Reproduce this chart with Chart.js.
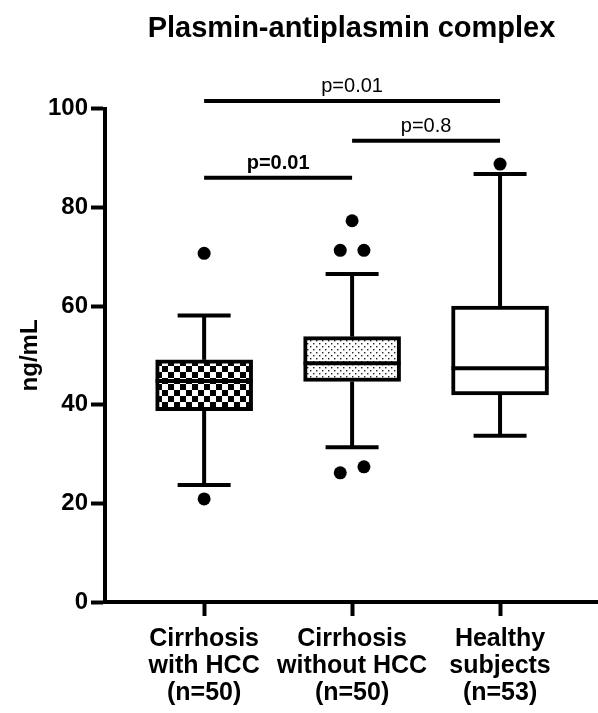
<!DOCTYPE html>
<html>
<head>
<meta charset="utf-8">
<script src="https://cdn.jsdelivr.net/npm/chart.js@4.4.0/dist/chart.umd.min.js"></script>
<style>
  body { margin: 0; background: #fff; }
  #wrap { width: 598px; height: 713px; }
</style>
</head>
<body>
<div id="wrap"><canvas id="boxChart" width="598" height="713"></canvas></div>
<script>
// groups on the x axis (1, 2, 3) and their multi-line labels
const groupPos = [1, 2, 3];
const groupLabels = [
    ['Cirrhosis', 'with HCC', '(n=50)'],
    ['Cirrhosis', 'without HCC', '(n=50)'],
    ['Healthy', 'subjects', '(n=53)']
];

// box plot summary, ng/mL
const whiskerLow = [23.7, 31.4, 33.7];
const q1 = [38.8, 44.7, 42.0];
const median = [44.8, 48.4, 47.4];
const q3 = [49.1, 53.8, 60.0];
const whiskerHigh = [58.1, 66.5, 86.8];

// outliers (x slightly jittered like in the figure)
const outlierX = [1, 1, 2, 1.92, 2.08, 1.92, 2.08, 3];
const outlierY = [70.7, 20.9, 77.3, 71.3, 71.3, 26.2, 27.4, 88.8];

const yTicks = [0, 20, 40, 60, 80, 100];

// significance brackets
const pFrom = [1, 2, 1];
const pTo = [3, 3, 2];
const pLevel = [101.6, 93.5, 86.0];
const pLabels = ['p=0.01', 'p=0.8', 'p=0.01'];
const pBold = [false, false, true];

const FONT = "'Liberation Sans', Arial, Helvetica, sans-serif";

function checkerPattern() {
    const c = document.createElement('canvas');
    c.width = 12; c.height = 12;
    const g = c.getContext('2d');
    g.fillStyle = '#fff';
    g.fillRect(0, 0, 12, 12);
    g.fillStyle = '#000';
    g.fillRect(0, 0, 6, 6);
    g.fillRect(6, 6, 6, 6);
    return g.createPattern(c, 'repeat');
}

function dotPattern() {
    const c = document.createElement('canvas');
    c.width = 6; c.height = 6;
    const g = c.getContext('2d');
    g.fillStyle = '#fff';
    g.fillRect(0, 0, 6, 6);
    g.fillStyle = '#222';
    g.fillRect(1, 1, 1.4, 1.4);
    g.fillRect(4, 4, 1.4, 1.4);
    return g.createPattern(c, 'repeat');
}

// whiskers, medians and the p-value brackets
const boxExtras = {
    id: 'boxExtras',
    afterDatasetsDraw(chart) {
        const ctx = chart.ctx;
        const x = chart.scales.x;
        const y = chart.scales.y;
        ctx.save();
        ctx.strokeStyle = '#000';
        ctx.lineWidth = 4;
        ctx.lineCap = 'butt';

        function seg(x1, y1, x2, y2) {
            ctx.beginPath();
            ctx.moveTo(x1, y1);
            ctx.lineTo(x2, y2);
            ctx.stroke();
        }

        groupPos.forEach((g, i) => {
            const cx = x.getPixelForValue(g);
            seg(cx, y.getPixelForValue(q3[i]), cx, y.getPixelForValue(whiskerHigh[i]));
            seg(cx, y.getPixelForValue(q1[i]), cx, y.getPixelForValue(whiskerLow[i]));
            seg(cx - 26.5, y.getPixelForValue(whiskerHigh[i]), cx + 26.5, y.getPixelForValue(whiskerHigh[i]));
            seg(cx - 26.5, y.getPixelForValue(whiskerLow[i]), cx + 26.5, y.getPixelForValue(whiskerLow[i]));
            seg(cx - 48.5, y.getPixelForValue(median[i]), cx + 48.5, y.getPixelForValue(median[i]));
        });

        ctx.fillStyle = '#000';
        ctx.textAlign = 'center';
        ctx.textBaseline = 'alphabetic';
        pLabels.forEach((label, i) => {
            const x1 = x.getPixelForValue(pFrom[i]);
            const x2 = x.getPixelForValue(pTo[i]);
            const py = y.getPixelForValue(pLevel[i]);
            seg(x1, py, x2, py);
            ctx.font = (pBold[i] ? 'bold ' : '') + '20px ' + FONT;
            ctx.fillText(label, (x1 + x2) / 2, py - 9);
        });
        ctx.restore();
    }
};

const chart = new Chart(document.getElementById('boxChart'), {
    type: 'bar',
    data: {
        datasets: [{
            type: 'bar',
            data: groupPos.map((g, i) => ({ x: g, y: [q1[i], q3[i]] })),
            backgroundColor: [checkerPattern(), dotPattern(), '#fff'],
            borderColor: '#000',
            borderWidth: 4,
            borderSkipped: false,
            barThickness: 97
        }, {
            type: 'scatter',
            data: outlierX.map((v, i) => ({ x: v, y: outlierY[i] })),
            pointRadius: 6.5,
            pointBackgroundColor: '#000',
            pointBorderWidth: 0,
            clip: false
        }]
    },
    options: {
        responsive: false,
        animation: false,
        layout: { padding: 0, autoPadding: false },
        plugins: {
            legend: { display: false },
            tooltip: { enabled: false },
            title: {
                display: true,
                text: 'Plasmin-antiplasmin complex',
                color: '#000',
                fullSize: false,
                font: { family: FONT, size: 29, weight: 'bold' },
                padding: { top: 12, bottom: 62 }
            }
        },
        scales: {
            x: {
                type: 'linear',
                offset: false,
                min: 0.33,
                max: 3.662,
                afterBuildTicks: s => { s.ticks = groupPos.map(v => ({ value: v })); },
                afterFit: s => { s.height = 111; },
                ticks: {
                    autoSkip: false,
                    maxRotation: 0,
                    padding: 10,
                    color: '#000',
                    font: { family: FONT, size: 25, weight: 'bold', lineHeight: 1.08 },
                    callback: v => groupLabels[groupPos.indexOf(v)]
                },
                grid: { offset: false, drawOnChartArea: false, tickLength: 14, tickWidth: 4, tickColor: '#000' },
                border: { color: '#000', width: 4 }
            },
            y: {
                min: 0,
                max: 100,
                afterBuildTicks: s => { s.ticks = yTicks.map(v => ({ value: v })); },
                afterFit: s => { s.width = 105; },
                ticks: {
                    padding: 3,
                    color: '#000',
                    font: { family: FONT, size: 24, weight: 'bold' }
                },
                grid: { drawOnChartArea: false, tickLength: 14, tickWidth: 4, tickColor: '#000' },
                border: { color: '#000', width: 4 },
                title: {
                    display: true,
                    text: 'ng/mL',
                    color: '#000',
                    font: { family: FONT, size: 24, weight: 'bold' },
                    padding: { top: 16, bottom: 0 }
                }
            }
        }
    },
    plugins: [boxExtras]
});
</script>
</body>
</html>
